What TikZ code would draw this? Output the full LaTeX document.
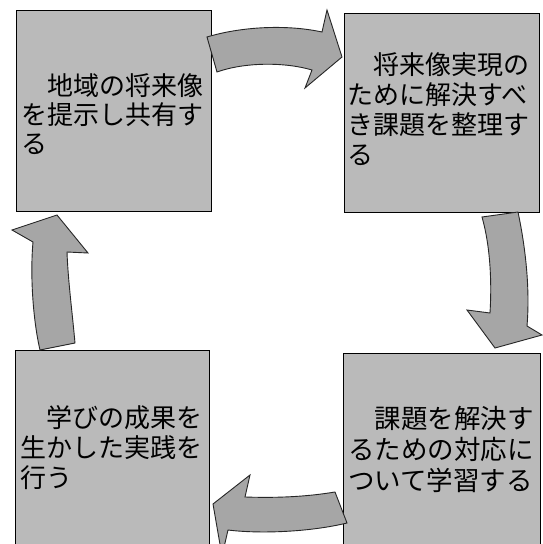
\documentclass[tikz,border=0pt]{standalone}
\usepackage{fontspec}
\setmainfont{Noto Sans CJK JP}
\begin{document}
\begin{tikzpicture}[x=1pt,y=-1pt,
  stagebox/.style={draw=black, line width=1.2pt, fill=black!27, anchor=north west, inner sep=0pt},
  stagetext/.style={anchor=base west, inner sep=0pt, text width=195pt, align=left, font=\fontsize{26}{30}\selectfont},
  cyclearrow/.style={draw=black!85, line width=0.9pt, fill=black!35, line join=miter}]
\useasboundingbox (0,0) rectangle (543,544);
\clip (0,0) rectangle (543,544);
\fill[white] (0,0) rectangle (543,544);
% boxes
\node[stagebox, minimum width=195pt, minimum height=201pt] (tl) at (16,10) {};
\node[stagebox, minimum width=195pt, minimum height=199pt] (tr) at (344,13) {};
\node[stagebox, minimum width=194pt, minimum height=210pt] (bl) at (15,350) {};
\node[stagebox, minimum width=197pt, minimum height=207pt] (br) at (343,353) {};
% texts
\node[stagetext, font=\fontsize{26}{29}\selectfont] (tltext) at (21,95) {\hspace*{1em}地域の将来像\\を提示し共有す\\る};
\node[stagetext] (trtext) at (347,74) {\hspace*{1em}将来像実現の\\ために解決すべ\\き課題を整理す\\る};
\node[stagetext] (bltext) at (20,427) {\hspace*{1em}学びの成果を\\生かした実践を\\行う};
\node[stagetext, font=\fontsize{26.5}{31}\selectfont] (brtext) at (348,428) {\hspace*{1em}課題を解決す\\るための対応に\\ついて学習する};
% arrows
\draw[cyclearrow] (207,37) .. controls (240,27) and (285,24) .. (322,32) -- (327,10) -- (342,57) -- (305,88) -- (312,70) .. controls (285,62) and (245,62) .. (217,72) -- cycle;
\draw[cyclearrow] (482,217) -- (518,212) .. controls (526,250) and (530,290) .. (527,326) -- (542,335) -- (495,348) -- (467,310) -- (490,313) .. controls (492,280) and (490,245) .. (482,217) -- cycle;
\draw[cyclearrow] (335,492) -- (347,523) .. controls (310,532) and (260,534) .. (228,530) -- (222,556) -- (213,504) -- (250,475) -- (245,497) .. controls (275,498) and (305,497) .. (335,492) -- cycle;
\draw[cyclearrow] (40,350) -- (75,343) .. controls (72,310) and (68,280) .. (67,252) -- (88,253) -- (57,215) -- (12,230) -- (33,242) .. controls (30,275) and (33,320) .. (40,350) -- cycle;
\end{tikzpicture}
\end{document}
